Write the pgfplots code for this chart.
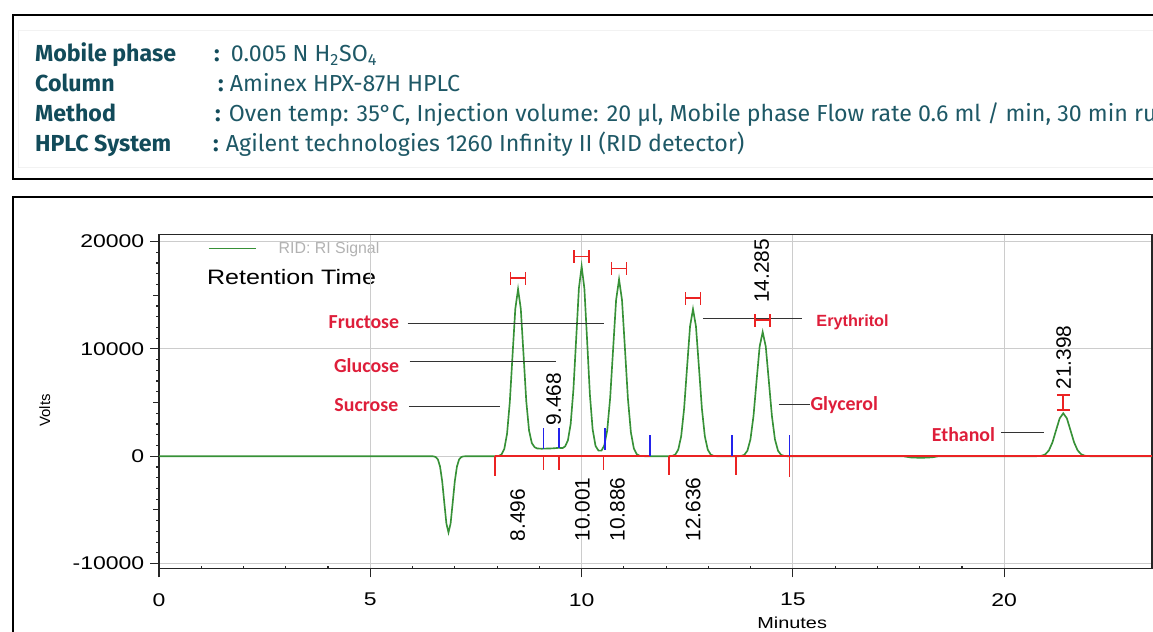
\documentclass[border=0pt]{standalone}
\usepackage{fontspec}
\usepackage{pgfplots}
\pgfplotsset{compat=1.18}
\setmainfont{Liberation Sans}
\newfontfamily\hdrfont{Fira Sans}
\newfontfamily\tickfont[FakeStretch=1.25]{Liberation Sans}
\newfontfamily\titlefont[FakeStretch=1.2]{Liberation Sans}
\newfontfamily\plainfont{Liberation Sans}
\newfontfamily\cali{Carlito}

\definecolor{hdrteal}{RGB}{18,75,90}
\definecolor{hdrval}{RGB}{30,88,102}
\definecolor{tracegreen}{RGB}{55,145,55}
\definecolor{basered}{RGB}{235,35,35}
\definecolor{markblue}{RGB}{35,35,235}
\definecolor{annred}{RGB}{222,30,58}

% integration marks drawn above the peak maxima
\pgfdeclareplotmark{hbeam}{%
  \pgfpathmoveto{\pgfqpoint{-4.5pt}{-3.9pt}}\pgfpathlineto{\pgfqpoint{-4.5pt}{3.9pt}}%
  \pgfpathmoveto{\pgfqpoint{4.5pt}{-3.9pt}}\pgfpathlineto{\pgfqpoint{4.5pt}{3.9pt}}%
  \pgfpathmoveto{\pgfqpoint{-4.5pt}{0pt}}\pgfpathlineto{\pgfqpoint{4.5pt}{0pt}}%
  \pgfusepathqstroke}
\pgfdeclareplotmark{vbeam}{%
  \pgfpathmoveto{\pgfqpoint{-3.9pt}{-4.5pt}}\pgfpathlineto{\pgfqpoint{3.9pt}{-4.5pt}}%
  \pgfpathmoveto{\pgfqpoint{-3.9pt}{4.5pt}}\pgfpathlineto{\pgfqpoint{3.9pt}{4.5pt}}%
  \pgfpathmoveto{\pgfqpoint{0pt}{-4.5pt}}\pgfpathlineto{\pgfqpoint{0pt}{4.5pt}}%
  \pgfusepathqstroke}

\pgfplotsset{
  starttick/.style={color=basered, line width=1.1pt, no marks},
  endtick/.style={color=markblue, line width=1.1pt, no marks},
}

\begin{document}
\begin{tikzpicture}
\begin{scope}[x=0.6pt,y=0.6pt]
\useasboundingbox (0,0) rectangle (1153,635);

% ---- method box ----
\draw[line width=1.5pt] (13,620) rectangle (1180,455);
\draw[black!5, line width=0.6pt] (19,604) rectangle (1180,466);
\begin{scope}[every node/.style={inner sep=0pt, anchor=base west}]
\node[font=\hdrfont\bfseries\fontsize{14}{16}\selectfont, text=hdrteal] at (35,573) {Mobile phase};
\node[font=\hdrfont\bfseries\fontsize{14}{16}\selectfont, text=hdrteal] at (35,543) {Column};
\node[font=\hdrfont\bfseries\fontsize{14}{16}\selectfont, text=hdrteal] at (35,513) {Method};
\node[font=\hdrfont\bfseries\fontsize{14}{16}\selectfont, text=hdrteal] at (35,483) {HPLC System};
\node[font=\hdrfont\bfseries\fontsize{14}{16}\selectfont, text=hdrteal] at (215,573) {:};
\node[font=\hdrfont\bfseries\fontsize{14}{16}\selectfont, text=hdrteal] at (219,543) {:};
\node[font=\hdrfont\bfseries\fontsize{14}{16}\selectfont, text=hdrteal] at (216,513) {:};
\node[font=\hdrfont\bfseries\fontsize{14}{16}\selectfont, text=hdrteal] at (214,483) {:};
\node[font=\hdrfont\fontsize{14}{16}\selectfont, text=hdrval] at (232,573) {0.005 N H\textsubscript{2}SO\textsubscript{4}};
\node[font=\hdrfont\fontsize{14}{16}\selectfont, text=hdrval] at (231,543) {Aminex HPX-87H HPLC};
\node[font=\hdrfont\fontsize{14}{16}\selectfont, text=hdrval] at (230,513) {Oven temp: 35°C, Injection volume: 20 µl, Mobile phase Flow rate 0.6 ml / min, 30 min run};
\node[font=\hdrfont\fontsize{14}{16}\selectfont, text=hdrval] at (227,483) {Agilent technologies 1260 Infinity II (RID detector)};
\end{scope}

% ---- chromatogram frame ----
\draw[line width=1.2pt] (1180,437) -- (13,437) -- (13,-20);

% legend and title inside the plot
\draw[color=tracegreen, line width=1pt] (210,385) -- (258,385);
\node[anchor=west, inner sep=0pt, text=black!30, font=\plainfont\fontsize{9.6}{11}\selectfont] at (280,384) {RID: RI Signal};
\node[anchor=west, inner sep=0pt, font=\titlefont\fontsize{12.6}{14}\selectfont] at (208,356) {Retention Time};

% axis titles
\node[font=\tickfont\fontsize{9.6}{11}\selectfont] at (797,8) {Minutes};
\node[rotate=90, font=\plainfont\fontsize{9}{11}\selectfont] at (45,222) {Volts};
\end{scope}

\begin{axis}[
  at={(96pt,37.8pt)}, anchor=south west, scale only axis,
  width=599.25pt, height=201.6pt,
  xmin=0, xmax=23.5, ymin=-10463, ymax=20648,
  scaled x ticks=false, scaled y ticks=false,
  xtick={0,5,10,15,20}, xticklabels={0,5,10,15,20},
  ytick={-10000,0,10000,20000}, yticklabels={-10000,0,10000,20000},
  minor x tick num=4, minor y tick num=9,
  xtick pos=left, ytick pos=left, tick align=outside,
  major tick length=5.4pt, minor tick length=1.8pt,
  minor x tick style={yshift=1.8pt},
  extra y ticks={-5000,5000,15000}, extra y tick labels={},
  extra y tick style={grid=none, major tick length=3.6pt},
  grid=major, major grid style={black!20, line width=0.6pt},
  axis line style={line width=1.1pt, black!85},
  tick style={black!85, line width=0.7pt},
  ticklabel style={font=\tickfont\fontsize{11.1}{12}\selectfont},
  xticklabel style={yshift=-6pt},
  clip=false,
]

% detector trace
\addplot[color=tracegreen, line width=1pt, no marks] coordinates {
(0,0) (6.45,0) (6.5,-16) (6.55,-79) (6.6,-312) (6.65,-961) (6.7,-2305) (6.75,-4306)
(6.8,-6266) (6.85,-7100) (6.9,-6266) (6.95,-4306) (7.0,-2305) (7.05,-961) (7.1,-312)
(7.15,-79) (7.2,-16) (7.3,0)
(8.0,0) (8.041,34) (8.106,173) (8.171,683) (8.236,2105) (8.301,5052) (8.366,9437)
(8.431,13732) (8.496,15560) (8.561,13732) (8.626,9437) (8.691,5100) (8.756,2400)
(8.821,1230) (8.886,850) (8.95,720) (9.05,700) (9.15,710) (9.25,720) (9.35,740)
(9.45,780) (9.55,760) (9.611,920) (9.676,1480) (9.741,3000) (9.806,6200) (9.871,10900)
(9.936,15650) (10.001,17685) (10.066,15607) (10.131,10726) (10.196,5742) (10.261,2500)
(10.33,950) (10.40,520) (10.47,520) (10.536,1000) (10.606,2400) (10.676,5450)
(10.746,10000) (10.816,14544) (10.886,16481) (10.956,14544) (11.026,9996) (11.096,5351)
(11.166,2230) (11.236,724) (11.306,183) (11.376,36) (11.5,0)
(12.1,0) (12.146,30) (12.216,152) (12.286,602) (12.356,1854) (12.426,4449) (12.496,8311)
(12.566,12093) (12.636,13703) (12.706,12093) (12.776,8311) (12.846,4449) (12.916,1854)
(12.986,602) (13.056,152) (13.126,30) (13.2,0)
(13.72,0) (13.777,25) (13.850,128) (13.923,508) (13.995,1566) (14.068,3758) (14.140,7020)
(14.213,10214) (14.285,11574) (14.358,10214) (14.430,7020) (14.503,3758) (14.575,1566)
(14.648,508) (14.720,128) (14.793,25) (14.87,0)
(17.6,0) (17.8,-120) (18.05,-150) (18.3,-100) (18.45,0)
(20.75,0) (20.803,9) (20.888,44) (20.973,176) (21.058,541) (21.143,1299) (21.228,2426)
(21.313,3530) (21.398,4000) (21.483,3530) (21.568,2426) (21.653,1299) (21.738,541)
(21.823,176) (21.908,44) (21.993,9) (22.05,0) (23.5,0)
};

% integration baseline
\addplot[starttick, line width=0.9pt] coordinates {(7.95,0) (11.62,0)};
\addplot[starttick, line width=0.9pt] coordinates {(12.07,0) (23.5,0)};
% peak start ticks
\addplot[starttick] coordinates {(7.95,0) (7.95,-1850)};
\addplot[starttick] coordinates {(9.1,0) (9.1,-1300)};
\addplot[starttick] coordinates {(9.46,0) (9.46,-1300)};
\addplot[starttick] coordinates {(10.52,0) (10.52,-1300)};
\addplot[starttick] coordinates {(12.07,0) (12.07,-1760)};
\addplot[starttick] coordinates {(13.65,0) (13.65,-1760)};
\addplot[starttick] coordinates {(14.92,0) (14.92,-1950)};
% peak end ticks
\addplot[endtick] coordinates {(9.1,700) (9.1,2590)};
\addplot[endtick] coordinates {(9.46,780) (9.46,2590)};
\addplot[endtick] coordinates {(10.55,560) (10.55,2590)};
\addplot[endtick] coordinates {(11.62,0) (11.62,1950)};
\addplot[endtick] coordinates {(13.55,0) (13.55,1950)};
\addplot[endtick] coordinates {(14.92,0) (14.92,1950)};

% retention time marks
\addplot[only marks, mark=hbeam, color=basered, line width=1pt] coordinates {
(8.496,16574) (10.001,18611) (10.886,17500) (12.636,14722) (14.285,12685)};
\addplot[only marks, mark=vbeam, color=basered, line width=1pt] coordinates {(21.398,5000)};

% retention times
\begin{scope}[every node/.style={rotate=90, anchor=west, inner sep=0pt,
    font=\plainfont\fontsize{12.6}{14}\selectfont}]
\node at (axis cs:8.49,-7963) {8.496};
\node at (axis cs:10.02,-7963) {10.001};
\node at (axis cs:10.85,-7963) {10.886};
\node at (axis cs:12.64,-7963) {12.636};
\node at (axis cs:9.34,2870) {9.468};
\node at (axis cs:14.26,14260) {14.285};
\node at (axis cs:21.41,6200) {21.398};
\end{scope}

% compound labels
\begin{scope}[black!80, line width=0.6pt]
\draw (axis cs:5.88,12355) -- (axis cs:10.54,12355);
\draw (axis cs:5.93,8850) -- (axis cs:9.39,8850);
\draw (axis cs:5.91,4610) -- (axis cs:8.07,4610);
\draw (axis cs:12.87,12820) -- (axis cs:15.22,12820);
\draw (axis cs:14.66,4790) -- (axis cs:15.41,4790);
\draw (axis cs:19.93,2210) -- (axis cs:20.94,2210);
\end{scope}
\begin{scope}[every node/.style={inner sep=0pt, text=annred,
    font=\cali\bfseries\fontsize{12}{14}\selectfont}]
\node[anchor=east] at (axis cs:5.69,12450) {Fructose};
\node[anchor=east] at (axis cs:5.69,8480) {Glucose};
\node[anchor=east] at (axis cs:5.67,4800) {Sucrose};
\node[anchor=west] at (axis cs:15.41,4790) {Glycerol};
\node[anchor=east] at (axis cs:19.79,2000) {Ethanol};
\node[anchor=west, font=\plainfont\bfseries\fontsize{9.8}{11}\selectfont] at (axis cs:15.55,12450) {Erythritol};
\end{scope}
\end{axis}
\end{tikzpicture}
\end{document}
